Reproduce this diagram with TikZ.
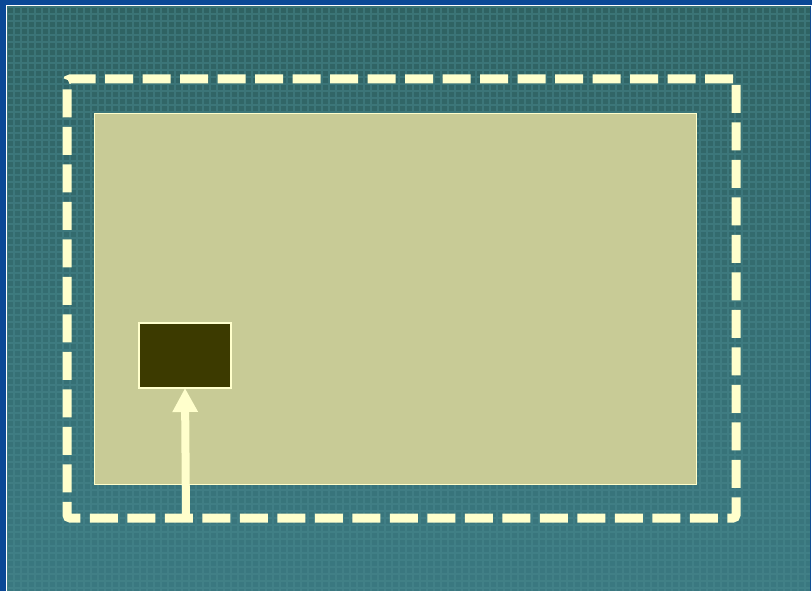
\documentclass[tikz,border=0pt]{standalone}
\usetikzlibrary{arrows.meta}
\definecolor{edgeblue}{HTML}{0B4896}
\definecolor{tealtop}{HTML}{2F6262}
\definecolor{tealbot}{HTML}{3A7880}
\definecolor{gridtone}{HTML}{4A8A90}
\definecolor{cream}{HTML}{FFFFCC}
\definecolor{panelfill}{HTML}{C8CB96}
\definecolor{chipfill}{HTML}{3C3A00}

\begin{document}
\begin{tikzpicture}[x=1pt, y=-1pt,
  box/.style={anchor=north west, outer sep=0pt, inner sep=0pt},
  dashframe/.style={box, draw=cream, line width=9pt, rounded corners=3pt,
    dash pattern=on 28pt off 9.5pt},
  panelbox/.style={box, draw=cream, fill=panelfill, line width=1pt},
  chipbox/.style={box, draw=cream, fill=chipfill, line width=1.5pt},
  uparrow/.style={-{Triangle[width=24pt, length=24pt]}, draw=cream, line width=8pt}]

  \useasboundingbox (0,0) rectangle (812,591);
  % backdrop
  \fill[edgeblue] (0,0) rectangle (812,591);
  \shade[top color=tealtop, bottom color=tealbot] (7,7) rectangle (810,591);
  \draw[gridtone, line width=1.6pt, opacity=0.45] (7,7) grid[step=7pt] (810,591);
  \draw[white, line width=1pt] (6,591) -- (6,6) -- (811,6) -- (811,591);

  \node[dashframe, minimum width=669pt, minimum height=439pt] (frame) at (67,79) {};
  \node[panelbox, minimum width=602pt, minimum height=370pt] (panel) at (94,114) {};
  \node[chipbox, minimum width=92pt, minimum height=65pt] (chip) at (139,323) {};

  \coordinate (foot) at (186,518);
  \draw[uparrow] (foot) -- (chip.south);
\end{tikzpicture}
\end{document}
